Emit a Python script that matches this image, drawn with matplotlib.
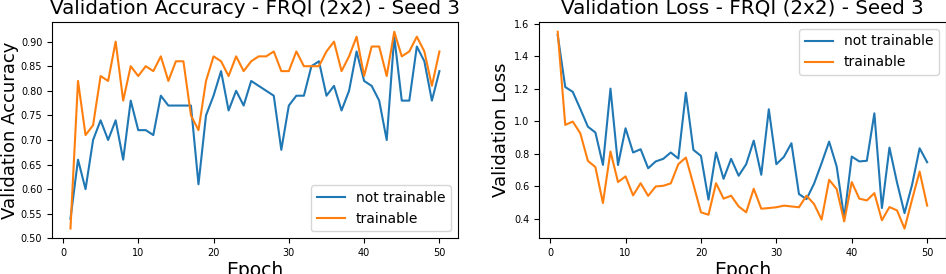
import matplotlib
matplotlib.use("Agg")

import matplotlib.pyplot as plt
import numpy as np

# ------------------------------------------------------------
# DATA
# ------------------------------------------------------------
epochs = np.arange(1, 51)

acc_not_trainable = [0.54, 0.66, 0.60, 0.70, 0.74, 0.70, 0.74, 0.66, 0.78, 0.72,
                     0.72, 0.71, 0.79, 0.77, 0.77, 0.77, 0.77, 0.61, 0.75, 0.79,
                     0.84, 0.76, 0.80, 0.77, 0.82, 0.81, 0.80, 0.79, 0.68, 0.77,
                     0.79, 0.79, 0.85, 0.86, 0.79, 0.81, 0.76, 0.80, 0.88, 0.82,
                     0.81, 0.78, 0.70, 0.91, 0.78, 0.78, 0.89, 0.86, 0.78, 0.84]

acc_trainable = [0.52, 0.82, 0.71, 0.73, 0.83, 0.82, 0.90, 0.78, 0.85, 0.83,
                 0.85, 0.84, 0.87, 0.82, 0.86, 0.86, 0.75, 0.72, 0.82, 0.87,
                 0.86, 0.83, 0.87, 0.84, 0.86, 0.87, 0.87, 0.88, 0.84, 0.84,
                 0.88, 0.85, 0.85, 0.85, 0.88, 0.90, 0.84, 0.87, 0.91, 0.83,
                 0.89, 0.89, 0.83, 0.92, 0.87, 0.88, 0.91, 0.88, 0.81, 0.88]

loss_not_trainable = [1.53, 1.21, 1.18, 1.075, 0.966, 0.93, 0.731, 1.20, 0.73, 0.956,
                      0.807, 0.827, 0.71, 0.752, 0.768, 0.807, 0.77, 1.175, 0.823, 0.786,
                      0.517, 0.807, 0.645, 0.768, 0.664, 0.735, 0.88, 0.67, 1.073, 0.735,
                      0.78, 0.864, 0.551, 0.52, 0.615, 0.741, 0.874, 0.721, 0.404, 0.782,
                      0.752, 0.756, 1.048, 0.465, 0.837, 0.623, 0.434, 0.608, 0.833, 0.747]

loss_trainable = [1.55, 0.977, 0.997, 0.925, 0.756, 0.717, 0.496, 0.813, 0.625, 0.66,
                  0.543, 0.618, 0.54, 0.598, 0.602, 0.617, 0.735, 0.776, 0.61, 0.439,
                  0.424, 0.618, 0.523, 0.541, 0.475, 0.439, 0.584, 0.461, 0.465, 0.47,
                  0.48, 0.475, 0.47, 0.541, 0.49, 0.394, 0.639, 0.582, 0.383, 0.625,
                  0.523, 0.512, 0.557, 0.39, 0.471, 0.451, 0.339, 0.517, 0.69, 0.48]

series_labels = ["not trainable", "trainable"]

# ------------------------------------------------------------
# FIGURE
# ------------------------------------------------------------
fig = plt.figure(figsize=(9.46, 2.74), dpi=100)
ax1 = fig.add_axes([0.055, 0.130, 0.429, 0.790])
ax2 = fig.add_axes([0.570, 0.130, 0.4296, 0.790])

ax1.plot(epochs, acc_not_trainable, label=series_labels[0])
ax1.plot(epochs, acc_trainable, label=series_labels[1])
ax1.set_title("Validation Accuracy - FRQI (2x2) - Seed 3", fontsize=14.3)
ax1.set_xlabel("Epoch", fontsize=13.5, labelpad=2)
ax1.set_ylabel("Validation Accuracy", fontsize=13, labelpad=1)
ax1.legend(loc="lower right", fontsize=10)

ax2.plot(epochs, loss_not_trainable, label=series_labels[0])
ax2.plot(epochs, loss_trainable, label=series_labels[1])
ax2.set_title("Validation Loss - FRQI (2x2) - Seed 3", fontsize=14.3)
ax2.set_xlabel("Epoch", fontsize=13.5, labelpad=2)
ax2.set_ylabel("Validation Loss", fontsize=13, labelpad=3)
ax2.legend(loc="upper right", fontsize=10)

for ax in (ax1, ax2):
    ax.tick_params(labelsize=7)

fig.savefig("out.png", dpi=100)
